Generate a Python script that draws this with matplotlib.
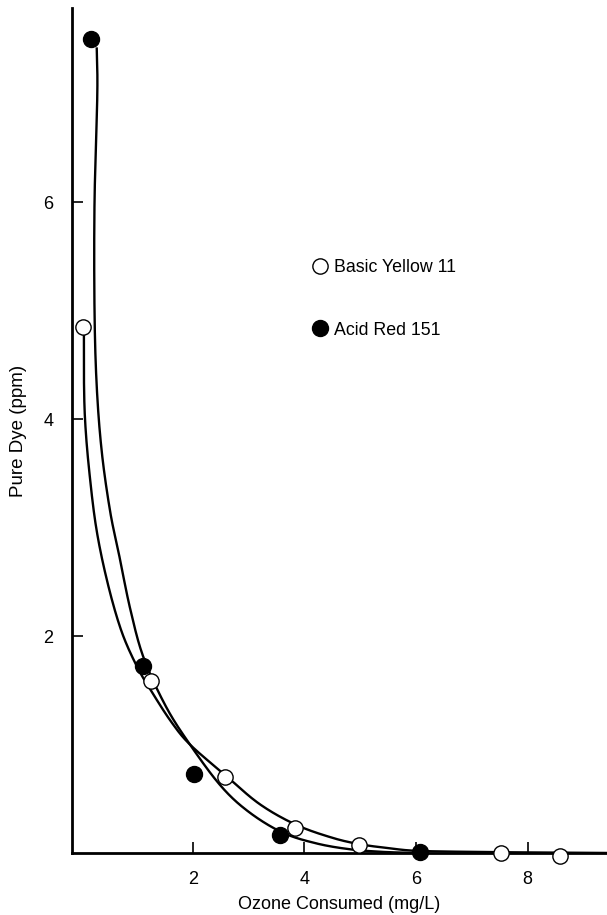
import numpy as np
import matplotlib
matplotlib.use("Agg")
import matplotlib.pyplot as plt

plt.rcParams['font.family'] = ['Liberation Sans', 'DejaVu Sans']

# Measured points
by_x = [0.03, 1.25, 2.58, 3.83, 4.97, 7.52, 8.57]
by_y = [4.85, 1.585, 0.70, 0.23, 0.074, 0.0, -0.03]
ar_x = [0.18, 1.11, 2.03, 3.56, 6.07]
ar_y = [7.51, 1.72, 0.725, 0.17, 0.01]

# Hand-drawn fitted curves
by_curve_x = [0.05, 0.05, 0.07, 0.14, 0.27, 0.47, 0.72, 1.00, 1.25, 1.60, 1.95,
              2.60, 3.20, 3.85, 4.50, 5.00, 5.50, 6.00, 7.00, 8.00, 9.42]
by_curve_y = [4.80, 4.40, 4.00, 3.55, 3.00, 2.50, 2.05, 1.72, 1.50, 1.22, 1.00,
              0.71, 0.45, 0.26, 0.14, 0.08, 0.045, 0.02, 0.01, 0.005, 0.0]
ar_curve_x = [0.28, 0.29, 0.24, 0.24, 0.28, 0.37, 0.52, 0.68, 0.88, 1.12, 1.52,
              1.95, 2.50, 3.00, 3.60, 4.20, 4.80, 5.40, 6.00]
ar_curve_y = [7.42, 7.00, 6.00, 5.00, 4.30, 3.70, 3.15, 2.75, 2.25, 1.80, 1.35,
              1.00, 0.62, 0.38, 0.19, 0.09, 0.035, 0.01, 0.0]

x_ticks = [2, 4, 6, 8]
y_ticks = [2, 4, 6]


def catmull_rom(xs, ys, n=25):
    p = np.column_stack([xs, ys]).astype(float)
    p = np.vstack([p[0] - (p[1] - p[0]), p, p[-1] + (p[-1] - p[-2])])
    out = []
    for i in range(1, len(p) - 2):
        p0, p1, p2, p3 = p[i - 1], p[i], p[i + 1], p[i + 2]
        t = np.linspace(0, 1, n, endpoint=False)[:, None]
        seg = 0.5 * ((2 * p1) + (-p0 + p2) * t + (2 * p0 - 5 * p1 + 4 * p2 - p3) * t ** 2
                     + (-p0 + 3 * p1 - 3 * p2 + p3) * t ** 3)
        out.append(seg)
    out.append(p[-2][None, :])
    out = np.vstack(out)
    return out[:, 0], out[:, 1]


fig = plt.figure(figsize=(6.07, 9.15), dpi=100)
ax = fig.add_axes([0.118, 0.0678, 0.882, 0.923])
ax.set_xlim(-0.17, 9.42)
ax.set_ylim(0, 7.79)

cx, cy = catmull_rom(by_curve_x, by_curve_y)
ax.plot(cx, cy, color='black', lw=1.7, clip_on=False)
cx, cy = catmull_rom(ar_curve_x, ar_curve_y)
ax.plot(cx, cy, color='black', lw=1.7, clip_on=False)

ax.plot(by_x, by_y, 'o', ms=11, mfc='white', mec='black', mew=1.0,
        ls='none', clip_on=False, zorder=3, label='Basic Yellow 11')
ax.plot(ar_x, ar_y, 'o', ms=11.5, mfc='black', mec='black',
        ls='none', clip_on=False, zorder=3, label='Acid Red 151')

for s in ['top', 'right']:
    ax.spines[s].set_visible(False)
for s in ['left', 'bottom']:
    ax.spines[s].set_linewidth(2.0)

ax.set_xticks(x_ticks)
ax.set_yticks(y_ticks)
ax.tick_params(direction='in', length=8, width=1.2, labelsize=13, pad=13)
ax.set_xlabel('Ozone Consumed (mg/L)', fontsize=13, labelpad=6)
ax.set_ylabel('Pure Dye (ppm)', fontsize=13.5, labelpad=12)

ax.legend(loc='upper left', bbox_to_anchor=(0.447, 0.703), frameon=False,
          fontsize=12.8, labelspacing=2.55, handletextpad=0.3, handlelength=1.0,
          borderpad=0, borderaxespad=0)

fig.savefig('out.png', dpi=100)
